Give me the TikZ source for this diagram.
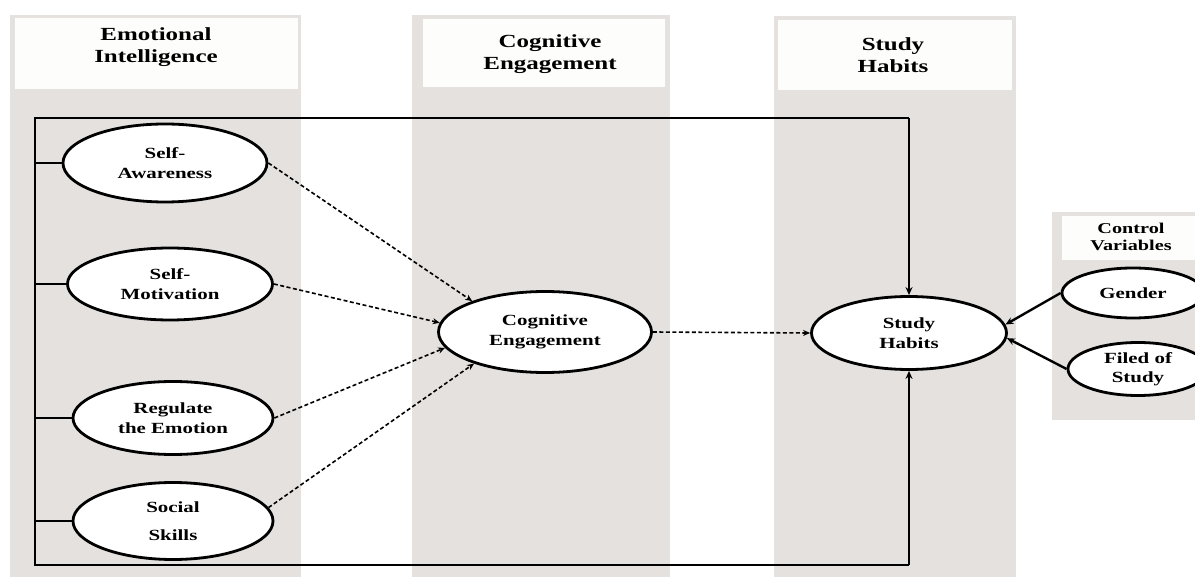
\documentclass[tikz,border=0pt]{standalone}
\usepackage{fontspec}
\setmainfont{Liberation Serif}[FakeStretch=1.35]
\usetikzlibrary{shapes.geometric,arrows.meta}
\definecolor{panelgray}{RGB}{228,225,223}
\definecolor{hdrwhite}{RGB}{253,253,251}
\begin{document}
\begin{tikzpicture}[x=1pt,y=-1pt,
  ov/.style={ellipse, draw=black, line width=2.8pt, fill=white, inner sep=0pt, align=center,
             font=\bfseries\fontsize{15.5}{19.5}\selectfont},
  dashar/.style={dash pattern=on 4pt off 2.5pt, line width=1.6pt, -{Stealth[length=7pt,width=6pt]}},
  solar/.style={line width=2.4pt, -{Stealth[length=8pt,width=7pt]}},
  busline/.style={line width=2.2pt},
  htext/.style={align=center, font=\bfseries\fontsize{18.5}{21.5}\selectfont},
  stext/.style={align=center, font=\bfseries\fontsize{15}{17.5}\selectfont}]
\useasboundingbox (0,0) rectangle (1195,577);
\fill[white] (0,0) rectangle (1195,577);
% panels
\fill[panelgray] (10,15) rectangle (301,577);
\fill[hdrwhite] (15,18) rectangle (298,89);
\fill[panelgray] (412,15) rectangle (670,577);
\fill[hdrwhite] (423,19) rectangle (665,87);
\fill[panelgray] (774,16) rectangle (1016,577);
\fill[hdrwhite] (778,20) rectangle (1012,90);
\fill[panelgray] (1052,212) rectangle (1195,420);
\fill[hdrwhite] (1062,216) rectangle (1195,260);
% headers
\node[htext] (h1) at (156,47) {Emotional\\Intelligence};
\node[htext] (h2) at (550,54) {Cognitive\\Engagement};
\node[htext] (h3) at (893,55) {Study\\Habits};
\node[stext] (h4) at (1131,237) {Control\\Variables};
% bus
\coordinate (tl) at (35,118);
\coordinate (tr) at (909,118);
\coordinate (bl) at (35,565);
\coordinate (br) at (909,565);
\draw[busline] (tr) -- (tl) -- (bl) -- (br);
% ellipses
\node[ov, minimum width=204pt, minimum height=78pt] (sa) at (165,163) {Self-\\Awareness};
\node[ov, minimum width=205pt, minimum height=72pt] (sm) at (170,284) {Self-\\Motivation};
\node[ov, minimum width=200pt, minimum height=73pt] (re) at (173,418) {Regulate\\the Emotion};
\node[ov, minimum width=200pt, minimum height=77pt] (ss) at (173,521) {Social\\[9pt]Skills};
\node[ov, minimum width=213pt, minimum height=81pt] (ce) at (545,332) {Cognitive\\Engagement};
\node[ov, minimum width=195pt, minimum height=73pt] (sh) at (909,333) {Study\\Habits};
\node[ov, minimum width=142pt, minimum height=50pt] (ge) at (1133,293) {Gender};
\node[ov, minimum width=140pt, minimum height=53pt] (fs) at (1138,369) {Filed of\\Study};
% stubs
\draw[busline] (tl |- sa.west) -- (sa.west);
\draw[busline] (tl |- sm.west) -- (sm.west);
\draw[busline] (tl |- re.west) -- (re.west);
\draw[busline] (tl |- ss.west) -- (ss.west);
% dashed arrows
\draw[dashar] (sa.east) -- (ce.157);
\draw[dashar] (sm.east) -- (ce.175);
\draw[dashar] (re.east) -- (ce.189);
\draw[dashar] (ss.8) -- (ce.204);
\draw[dashar] (ce.east) -- (sh.west);
% solid arrows
\draw[solar] (tr) -- (sh.north);
\draw[solar] (br) -- (sh.south);
\draw[solar] (ge.west) -- (sh.5);
\draw[solar] (fs.west) -- (sh.-3);
\end{tikzpicture}
\end{document}
